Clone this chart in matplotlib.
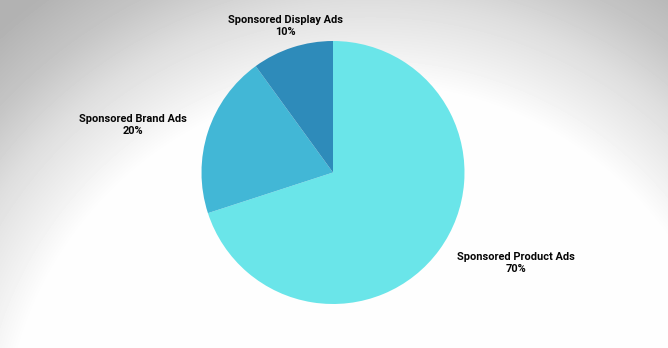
import matplotlib
matplotlib.use("Agg")
import matplotlib.pyplot as plt
import numpy as np

# data
categories = ["Sponsored Product Ads", "Sponsored Brand Ads", "Sponsored Display Ads"]
shares = [70, 20, 10]
colors = ["#6ae5e9", "#42b7d6", "#2e8bba"]

W, H = 668, 348
fig = plt.figure(figsize=(W / 100, H / 100), dpi=100)

# radial grey -> white background
bg = fig.add_axes([0, 0, 1, 1])
yy, xx = np.mgrid[0:H, 0:W]
d = np.sqrt((xx - 370) ** 2 + (yy - 450) ** 2)
level = np.interp(d, [365, 400, 450, 500, 560], [254, 240, 222, 198, 178])
bg.imshow(level, cmap="gray", vmin=0, vmax=255, aspect="auto",
          extent=[0, 1, 0, 1], origin="upper")
bg.axis("off")

# pie
cx, cy, r = 333, 172.5, 131.5
ax = fig.add_axes([(cx - r) / W, (H - cy - r) / H, 2 * r / W, 2 * r / H])
labels = [f"{c}\n{s}%" for c, s in zip(categories, shares)]
wedges, texts = ax.pie(shares, colors=colors, startangle=90, counterclock=False,
                       labels=labels, labeldistance=1.17,
                       wedgeprops=dict(linewidth=0),
                       textprops=dict(fontsize=7.9, fontweight="bold",
                                      family=["Roboto", "DejaVu Sans"],
                                      color="#050505", multialignment="center",
                                      linespacing=1.3))
for t in texts:
    x, y = t.get_position()
    if abs(x) < 0.5:
        t.set_ha("center")
ax.set_xlim(-1, 1)
ax.set_ylim(-1, 1)
ax.set_aspect("auto")
ax.axis("off")

fig.savefig("out.png", dpi=100)
